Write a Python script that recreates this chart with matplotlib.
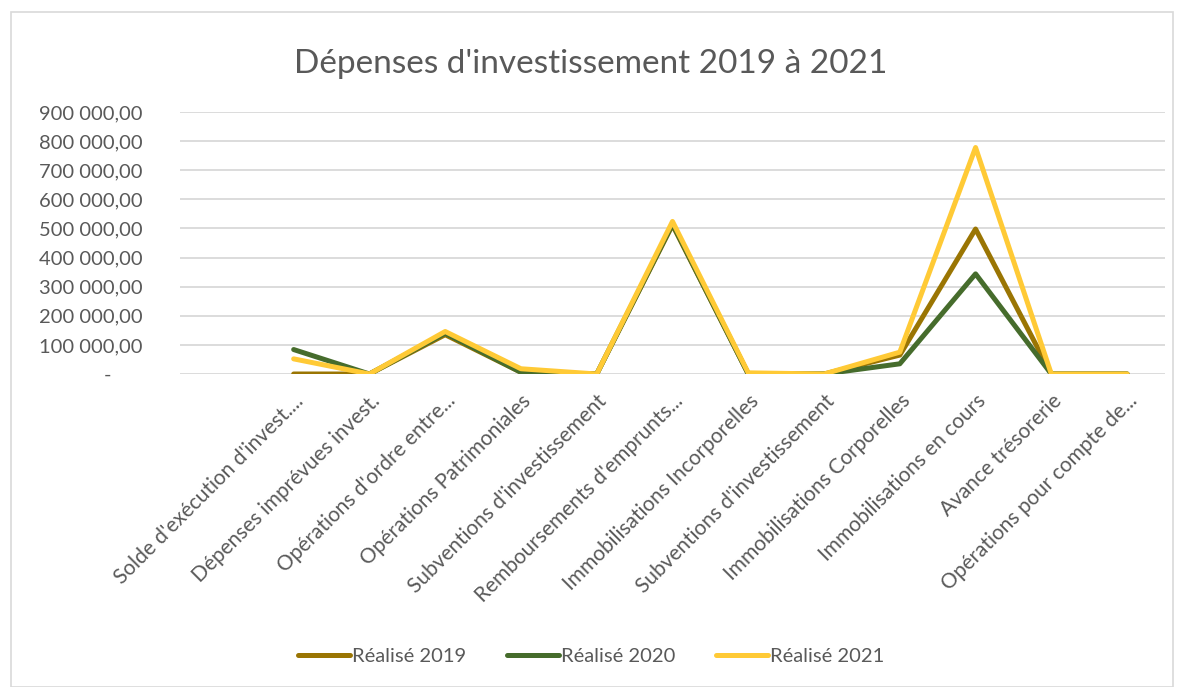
import matplotlib.pyplot as plt
from matplotlib.patches import Rectangle
from matplotlib.ticker import FuncFormatter

categories = [
    "Solde d'exécution d'invest....",
    "Dépenses imprévues invest.",
    "Opérations d'ordre entre...",
    "Opérations Patrimoniales",
    "Subventions d'investissement",
    "Remboursements d'emprunts...",
    "Immobilisations Incorporelles",
    "Subventions d'investissement",
    "Immobilisations Corporelles",
    "Immobilisations en cours",
    "Avance trésorerie",
    "Opérations pour compte de...",
]

realise_2019 = [0, 0, 135000, 6000, 0, 512000, 0, 0, 65000, 498000, 0, 0]
realise_2020 = [84000, 0, 140000, 6000, 0, 515000, 0, 0, 35000, 344000, 0, 0]
realise_2021 = [52000, 0, 146000, 18000, 0, 524000, 4000, 0, 75000, 778000, 0, 0]

series = [
    ("Réalisé 2019", realise_2019, "#9a7503"),
    ("Réalisé 2020", realise_2020, "#466c2c"),
    ("Réalisé 2021", realise_2021, "#ffca36"),
]

plt.rcParams['font.family'] = ['Lato', 'DejaVu Sans']
txt_color = '#595959'


def fmt_money(v, pos):
    if abs(v) < 1e-6:
        return "-      "
    s = f"{v:,.2f}"
    return s.replace(",", " ").replace(".", ",")


def main():
    fig = plt.figure(figsize=(11.82, 6.87), dpi=100)
    ax = fig.add_axes([0.1523, 0.4556, 0.8333, 0.3814])

    x = list(range(len(categories)))
    for label, values, color in series:
        ax.plot(x, values, color=color, linewidth=3.6, label=label,
                solid_joinstyle='round', solid_capstyle='round')

    ax.set_ylim(0, 900000)
    ax.set_xlim(-1.5, len(categories) - 0.5)
    ax.set_yticks(range(0, 900001, 100000))
    ax.yaxis.set_major_formatter(FuncFormatter(fmt_money))
    ax.grid(axis='y', color='#d9d9d9', linewidth=1.3)
    ax.set_axisbelow(True)
    for sp in ax.spines.values():
        sp.set_visible(False)
    ax.tick_params(axis='both', length=0, colors=txt_color)
    ax.tick_params(axis='y', pad=27, labelsize=14.5)

    ax.set_xticks(x)
    ax.set_xticklabels(categories, rotation=45, ha='right',
                       rotation_mode='anchor', fontsize=15, color=txt_color)
    ax.tick_params(axis='x', pad=12)

    fig.text(0.5, 0.907, "Dépenses d'investissement 2019 à 2021",
             ha='center', va='center', fontsize=24, color=txt_color)

    fig.legend(loc='center', bbox_to_anchor=(0.5, 0.045), ncol=3,
               frameon=False, fontsize=14.5, labelcolor=txt_color,
               handlelength=2.6, handletextpad=0.1, columnspacing=2.0)

    # thin frame around the chart area
    fig.patches.append(Rectangle((0.009, 0.0), 0.983, 0.982,
                                 transform=fig.transFigure, fill=False,
                                 edgecolor='#d9d9d9', linewidth=1.2))

    fig.savefig('out.png', dpi=100)


if __name__ == "__main__":
    main()
